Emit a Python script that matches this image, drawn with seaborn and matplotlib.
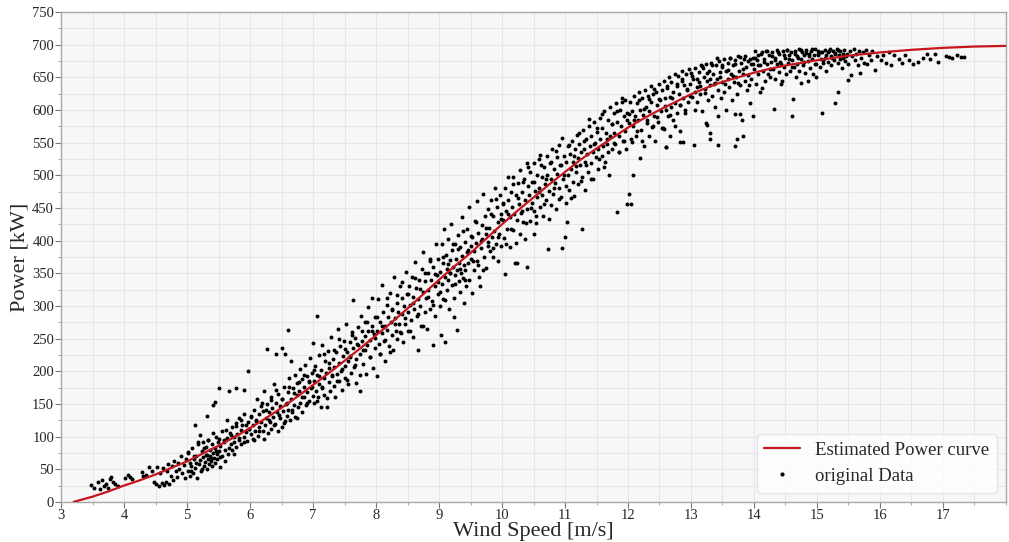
import matplotlib
matplotlib.use('Agg')
import matplotlib.pyplot as plt
from matplotlib.lines import Line2D
from matplotlib.ticker import MultipleLocator
import pandas as pd
import seaborn as sns

# Estimated power curve
curve_ws = [3.2, 3.5, 3.75, 4.0, 4.25, 4.5, 4.75, 5.0, 5.25, 5.5, 5.75, 6.0, 6.25, 6.5, 6.75,
            7.0, 7.25, 7.5, 7.75, 8.0, 8.25, 8.5, 8.75, 9.0, 9.25, 9.5, 9.75, 10.0, 10.25,
            10.5, 10.75, 11.0, 11.25, 11.5, 11.75, 12.0, 12.25, 12.5, 12.75, 13.0, 13.25,
            13.5, 13.75, 14.0, 14.25, 14.5, 14.75, 15.0, 15.5, 16.0, 16.5, 17.0, 17.5, 18.0]
curve_kw = [0, 8, 16, 25, 33, 42, 52, 62, 74, 86, 99, 113, 128, 144, 161,
            179, 197, 216, 235, 255, 275, 296, 318, 340, 361, 381, 403, 425, 446,
            466, 486, 505, 524, 541, 557, 573, 587, 600, 612, 624, 634,
            643, 650, 657, 663, 668, 672, 676, 683, 688, 692, 695, 697, 698]

# measured points (wind speed, power), grouped by wind speed range
pts_3_5 = [(3.48, 26), (3.52, 22), (3.58, 30), (3.62, 19), (3.65, 33), (3.68, 25), (3.71, 28),
           (3.74, 21), (3.77, 35), (3.8, 38), (3.83, 30), (3.86, 27), (3.9, 24), (4.02, 37),
           (4.06, 41), (4.1, 38), (4.12, 35), (4.28, 46), (4.3, 39), (4.35, 41), (4.4, 53),
           (4.44, 47), (4.47, 30), (4.5, 27), (4.52, 53), (4.55, 25), (4.57, 44), (4.6, 29),
           (4.62, 52), (4.63, 26), (4.66, 31), (4.68, 48), (4.7, 58), (4.72, 28), (4.74, 40),
           (4.76, 55), (4.78, 33), (4.8, 62), (4.82, 47), (4.84, 38), (4.86, 60), (4.88, 51),
           (4.9, 70), (4.92, 44), (4.95, 57), (4.97, 36), (4.99, 66)]

pts_5_6 = [(5.01, 48), (5.02, 75), (5.04, 39), (5.05, 60), (5.07, 55), (5.08, 82), (5.1, 44),
           (5.11, 66), (5.13, 118), (5.13, 52), (5.15, 71), (5.16, 36), (5.18, 88), (5.19, 58),
           (5.2, 102), (5.21, 64), (5.22, 47), (5.24, 78), (5.25, 69), (5.26, 92), (5.27, 55),
           (5.28, 61), (5.3, 84), (5.31, 131), (5.31, 72), (5.32, 50), (5.33, 66), (5.34, 95),
           (5.35, 58), (5.36, 79), (5.37, 70), (5.38, 63), (5.39, 88), (5.4, 55), (5.41, 75),
           (5.42, 148), (5.43, 67), (5.44, 153), (5.44, 82), (5.45, 60), (5.46, 100), (5.47, 73),
           (5.48, 65), (5.49, 91), (5.5, 174), (5.5, 78), (5.52, 54), (5.53, 86), (5.55, 70),
           (5.56, 108), (5.58, 94), (5.6, 62), (5.61, 80), (5.63, 125), (5.64, 98), (5.65, 74),
           (5.67, 169), (5.68, 105), (5.7, 88), (5.71, 115), (5.72, 79), (5.74, 100), (5.75, 92),
           (5.77, 174), (5.77, 120), (5.78, 84), (5.8, 104), (5.82, 95), (5.83, 128), (5.85, 110),
           (5.86, 88), (5.88, 118), (5.9, 171), (5.9, 99), (5.91, 135), (5.93, 107), (5.95, 93),
           (5.96, 122), (5.97, 201), (5.98, 112)]

pts_6_7 = [(6.01, 104), (6.02, 130), (6.04, 96), (6.05, 118), (6.07, 140), (6.08, 109), (6.1, 125),
           (6.11, 158), (6.13, 101), (6.14, 134), (6.15, 115), (6.17, 147), (6.18, 122), (6.2, 108),
           (6.21, 139), (6.22, 170), (6.24, 117), (6.25, 129), (6.27, 234), (6.27, 150), (6.28, 106),
           (6.3, 137), (6.31, 123), (6.33, 160), (6.34, 112), (6.35, 144), (6.37, 130), (6.38, 181),
           (6.4, 119), (6.41, 226), (6.41, 152), (6.43, 137), (6.44, 108), (6.45, 165), (6.47, 128),
           (6.48, 147), (6.5, 115), (6.51, 235), (6.51, 158), (6.53, 139), (6.54, 176), (6.55, 124),
           (6.56, 226), (6.57, 150), (6.58, 132), (6.6, 168), (6.61, 263), (6.61, 141), (6.62, 190),
           (6.64, 126), (6.65, 216), (6.65, 157), (6.67, 138), (6.68, 175), (6.7, 148), (6.71, 195),
           (6.72, 130), (6.74, 163), (6.75, 182), (6.76, 145), (6.78, 170), (6.79, 204), (6.8, 152),
           (6.82, 188), (6.83, 138), (6.85, 176), (6.86, 160), (6.87, 210), (6.89, 149), (6.9, 192),
           (6.91, 168), (6.93, 183), (6.94, 155), (6.95, 220), (6.97, 174), (6.98, 197), (7.0, 243),
           (7.0, 162)]

pts_7_8 = [(7.01, 185), (7.02, 151), (7.03, 208), (7.05, 170), (7.06, 285), (7.06, 194), (7.08, 160),
           (7.09, 225), (7.1, 181), (7.12, 146), (7.13, 202), (7.14, 176), (7.15, 240), (7.17, 190),
           (7.18, 163), (7.19, 215), (7.21, 198), (7.22, 146), (7.23, 231), (7.25, 184), (7.26, 205),
           (7.27, 170), (7.29, 252), (7.3, 193), (7.31, 218), (7.33, 178), (7.34, 206), (7.35, 160),
           (7.37, 229), (7.38, 196), (7.39, 264), (7.41, 212), (7.42, 185), (7.43, 238), (7.45, 200),
           (7.46, 172), (7.47, 224), (7.49, 247), (7.5, 208), (7.51, 190), (7.52, 273), (7.54, 230),
           (7.55, 215), (7.56, 180), (7.58, 244), (7.59, 222), (7.6, 198), (7.62, 260), (7.63, 236),
           (7.64, 309), (7.65, 206), (7.67, 251), (7.68, 219), (7.69, 182), (7.71, 268), (7.72, 240),
           (7.74, 226), (7.75, 169), (7.76, 285), (7.78, 247), (7.79, 211), (7.8, 232), (7.82, 276),
           (7.83, 254), (7.84, 196), (7.86, 240), (7.87, 299), (7.88, 262), (7.9, 222), (7.91, 248),
           (7.93, 312), (7.93, 270), (7.95, 205), (7.96, 257), (7.98, 236), (7.99, 283)]

pts_8_9 = [(8.01, 192), (8.02, 262), (8.03, 310), (8.05, 241), (8.06, 275), (8.07, 226), (8.09, 332),
           (8.1, 258), (8.11, 290), (8.13, 247), (8.14, 270), (8.15, 215), (8.17, 301), (8.18, 263),
           (8.19, 283), (8.21, 238), (8.22, 320), (8.23, 276), (8.25, 255), (8.26, 295), (8.27, 232),
           (8.29, 344), (8.3, 281), (8.31, 262), (8.33, 305), (8.34, 249), (8.35, 290), (8.37, 273),
           (8.38, 330), (8.39, 258), (8.41, 312), (8.42, 287), (8.43, 244), (8.45, 300), (8.46, 273),
           (8.47, 352), (8.49, 318), (8.5, 290), (8.51, 262), (8.53, 330), (8.54, 302), (8.55, 279),
           (8.57, 345), (8.58, 313), (8.59, 252), (8.61, 296), (8.62, 367), (8.63, 328), (8.65, 285),
           (8.66, 310), (8.67, 232), (8.69, 340), (8.7, 300), (8.71, 270), (8.73, 356), (8.74, 322),
           (8.75, 383), (8.77, 291), (8.78, 338), (8.79, 312), (8.81, 264), (8.82, 350), (8.83, 325),
           (8.85, 296), (8.86, 372), (8.87, 340), (8.89, 308), (8.9, 240), (8.91, 360), (8.93, 331),
           (8.94, 285), (8.95, 395), (8.97, 348), (8.98, 318), (8.99, 372)]

pts_9_10 = [(9.01, 352), (9.02, 300), (9.03, 256), (9.04, 395), (9.05, 333), (9.06, 366), (9.07, 310),
            (9.08, 418), (9.09, 345), (9.1, 245), (9.11, 378), (9.12, 325), (9.13, 356), (9.14, 402),
            (9.15, 340), (9.16, 295), (9.17, 370), (9.18, 350), (9.19, 426), (9.2, 332), (9.21, 385),
            (9.22, 360), (9.23, 312), (9.24, 283), (9.25, 395), (9.26, 347), (9.27, 372), (9.28, 263),
            (9.29, 355), (9.3, 408), (9.31, 338), (9.32, 366), (9.33, 322), (9.34, 390), (9.35, 350),
            (9.36, 436), (9.37, 377), (9.38, 343), (9.39, 305), (9.4, 362), (9.41, 398), (9.42, 355),
            (9.43, 330), (9.44, 383), (9.45, 418), (9.46, 365), (9.47, 452), (9.48, 340), (9.5, 392),
            (9.51, 372), (9.52, 320), (9.53, 406), (9.55, 384), (9.56, 355), (9.57, 430), (9.59, 397),
            (9.6, 368), (9.61, 460), (9.62, 412), (9.64, 345), (9.65, 330), (9.66, 388), (9.68, 424),
            (9.69, 402), (9.7, 472), (9.71, 375), (9.73, 437), (9.74, 410), (9.75, 358), (9.77, 392),
            (9.78, 448), (9.8, 420), (9.81, 384), (9.82, 462), (9.84, 405), (9.85, 375), (9.86, 438),
            (9.88, 415), (9.89, 480), (9.9, 395), (9.92, 452), (9.93, 428), (9.94, 368), (9.96, 410),
            (9.97, 470), (9.98, 440), (9.99, 392)]

pts_10_11 = [(10.01, 432), (10.02, 458), (10.03, 404), (10.05, 349), (10.05, 480), (10.07, 445),
             (10.08, 418), (10.09, 498), (10.1, 462), (10.12, 390), (10.13, 436), (10.14, 474),
             (10.16, 452), (10.17, 416), (10.18, 498), (10.19, 440), (10.21, 366), (10.22, 470),
             (10.23, 365), (10.24, 432), (10.25, 488), (10.27, 456), (10.28, 410), (10.29, 508),
             (10.31, 446), (10.32, 475), (10.33, 428), (10.35, 495), (10.36, 462), (10.37, 402),
             (10.39, 518), (10.4, 359), (10.4, 448), (10.41, 484), (10.43, 470), (10.44, 430),
             (10.45, 505), (10.47, 458), (10.48, 490), (10.5, 410), (10.5, 518), (10.51, 445),
             (10.52, 476), (10.54, 437), (10.55, 500), (10.56, 466), (10.58, 525), (10.59, 480),
             (10.6, 531), (10.61, 452), (10.63, 498), (10.64, 470), (10.65, 437), (10.67, 512),
             (10.68, 486), (10.7, 462), (10.71, 530), (10.72, 500), (10.73, 387), (10.74, 476),
             (10.76, 518), (10.77, 455), (10.78, 495), (10.8, 540), (10.81, 472), (10.83, 510),
             (10.84, 488), (10.85, 448), (10.87, 528), (10.88, 502), (10.9, 480), (10.91, 546),
             (10.92, 515), (10.94, 466), (10.95, 557), (10.96, 388), (10.97, 495), (10.98, 530)]

pts_11_12 = [(11.0, 405), (11.01, 520), (11.02, 457), (11.03, 429), (11.04, 545), (11.05, 500),
             (11.07, 478), (11.08, 532), (11.09, 510), (11.11, 552), (11.12, 490), (11.13, 520),
             (11.15, 468), (11.16, 540), (11.17, 505), (11.19, 562), (11.2, 527), (11.21, 486),
             (11.23, 548), (11.24, 515), (11.25, 535), (11.27, 418), (11.27, 498), (11.28, 570),
             (11.3, 540), (11.31, 520), (11.32, 478), (11.34, 555), (11.35, 532), (11.37, 505),
             (11.38, 576), (11.39, 545), (11.41, 518), (11.42, 560), (11.44, 535), (11.45, 495),
             (11.46, 582), (11.48, 550), (11.49, 528), (11.5, 566), (11.52, 540), (11.53, 510),
             (11.55, 588), (11.56, 555), (11.58, 530), (11.59, 572), (11.6, 545), (11.62, 598),
             (11.63, 520), (11.65, 565), (11.66, 548), (11.68, 585), (11.69, 535), (11.71, 605),
             (11.72, 560), (11.74, 578), (11.75, 540), (11.77, 595), (11.78, 565), (11.8, 548),
             (11.81, 610), (11.82, 444), (11.83, 582), (11.85, 560), (11.86, 535), (11.88, 600),
             (11.89, 575), (11.9, 612), (11.92, 552), (11.93, 590), (11.95, 568), (11.96, 615),
             (11.97, 540), (11.99, 456), (11.99, 595)]

pts_12_13 = [(12.01, 580), (12.02, 471), (12.03, 612), (12.04, 456), (12.05, 555), (12.06, 598),
             (12.08, 500), (12.08, 575), (12.1, 622), (12.11, 590), (12.13, 560), (12.14, 610),
             (12.16, 585), (12.17, 628), (12.19, 527), (12.19, 600), (12.21, 570), (12.22, 618),
             (12.24, 592), (12.25, 545), (12.27, 630), (12.28, 605), (12.3, 580), (12.31, 622),
             (12.33, 560), (12.34, 598), (12.36, 636), (12.37, 612), (12.39, 575), (12.4, 625),
             (12.42, 590), (12.43, 552), (12.45, 628), (12.46, 608), (12.48, 582), (12.49, 640),
             (12.51, 615), (12.52, 598), (12.54, 630), (12.55, 572), (12.57, 645), (12.57, 571),
             (12.58, 618), (12.6, 543), (12.6, 600), (12.61, 544), (12.62, 636), (12.63, 590),
             (12.65, 650), (12.66, 620), (12.67, 560), (12.68, 605), (12.69, 642), (12.71, 585),
             (12.72, 628), (12.74, 655), (12.75, 610), (12.77, 640), (12.78, 596), (12.8, 652),
             (12.81, 625), (12.83, 551), (12.83, 567), (12.83, 608), (12.85, 645), (12.86, 660),
             (12.88, 551), (12.88, 618), (12.89, 638), (12.91, 600), (12.92, 655), (12.94, 630),
             (12.95, 612), (12.97, 662), (12.98, 640)]

pts_13_14 = [(13.0, 656), (13.01, 620), (13.03, 648), (13.05, 546), (13.06, 600), (13.07, 664),
             (13.09, 635), (13.1, 612), (13.12, 658), (13.13, 642), (13.15, 625), (13.16, 668),
             (13.18, 598), (13.19, 664), (13.21, 650), (13.22, 632), (13.24, 670), (13.24, 580),
             (13.25, 577), (13.25, 645), (13.27, 615), (13.28, 660), (13.3, 556), (13.3, 564),
             (13.3, 638), (13.32, 672), (13.33, 622), (13.35, 655), (13.36, 640), (13.38, 605),
             (13.39, 668), (13.41, 648), (13.43, 546), (13.43, 590), (13.43, 630), (13.44, 675),
             (13.46, 658), (13.47, 618), (13.49, 665), (13.5, 642), (13.52, 678), (13.53, 628),
             (13.55, 660), (13.56, 600), (13.58, 672), (13.59, 648), (13.61, 635), (13.62, 680),
             (13.64, 655), (13.65, 615), (13.67, 668), (13.68, 642), (13.7, 545), (13.7, 593),
             (13.7, 676), (13.72, 650), (13.73, 556), (13.73, 625), (13.75, 683), (13.76, 660),
             (13.78, 594), (13.78, 638), (13.79, 672), (13.81, 585), (13.83, 560), (13.83, 655),
             (13.84, 678), (13.86, 645), (13.87, 665), (13.89, 630), (13.9, 675), (13.92, 638),
             (13.93, 610), (13.95, 670), (13.96, 648), (13.98, 680), (13.99, 590)]

pts_14_15 = [(14.0, 662), (14.01, 690), (14.03, 640), (14.04, 676), (14.06, 655), (14.07, 684),
             (14.09, 628), (14.1, 668), (14.12, 688), (14.13, 633), (14.15, 660), (14.16, 678),
             (14.18, 645), (14.19, 690), (14.21, 670), (14.22, 655), (14.24, 684), (14.26, 650),
             (14.27, 674), (14.29, 688), (14.3, 662), (14.31, 602), (14.33, 680), (14.34, 648),
             (14.36, 692), (14.37, 670), (14.39, 658), (14.4, 686), (14.42, 674), (14.43, 640),
             (14.45, 645), (14.46, 690), (14.48, 666), (14.49, 680), (14.51, 655), (14.52, 692),
             (14.54, 672), (14.55, 684), (14.57, 660), (14.58, 688), (14.6, 676), (14.61, 591),
             (14.62, 617), (14.63, 665), (14.65, 690), (14.66, 650), (14.68, 682), (14.69, 670),
             (14.71, 693), (14.72, 660), (14.74, 641), (14.75, 678), (14.77, 688), (14.78, 668),
             (14.8, 684), (14.81, 656), (14.83, 692), (14.85, 645), (14.86, 675), (14.88, 686),
             (14.89, 664), (14.91, 690), (14.92, 678), (14.94, 655), (14.95, 684), (14.97, 693),
             (14.99, 650), (14.99, 670)]

pts_15_16 = [(15.01, 684), (15.02, 690), (15.04, 666), (15.06, 678), (15.08, 596), (15.08, 688),
             (15.1, 672), (15.12, 692), (15.13, 680), (15.15, 660), (15.17, 688), (15.18, 674),
             (15.2, 694), (15.22, 682), (15.23, 668), (15.25, 690), (15.27, 676), (15.29, 610),
             (15.29, 686), (15.31, 693), (15.33, 628), (15.33, 672), (15.35, 684), (15.37, 690),
             (15.39, 664), (15.41, 680), (15.43, 692), (15.45, 675), (15.47, 686), (15.5, 646),
             (15.5, 670), (15.52, 690), (15.54, 653), (15.55, 682), (15.58, 694), (15.6, 676),
             (15.62, 686), (15.65, 668), (15.67, 690), (15.69, 656), (15.7, 680), (15.73, 688),
             (15.75, 672), (15.78, 692), (15.8, 671), (15.83, 684), (15.86, 676), (15.88, 690),
             (15.92, 661), (15.95, 682)]

pts_16_18 = [(16.02, 676), (16.05, 684), (16.1, 672), (16.15, 688), (16.18, 669), (16.23, 684),
             (16.3, 678), (16.35, 672), (16.4, 684), (16.46, 676), (16.52, 670), (16.6, 674),
             (16.68, 680), (16.74, 686), (16.8, 678), (16.87, 685), (16.92, 674), (17.05, 683),
             (17.1, 681), (17.15, 679), (17.22, 684), (17.28, 681), (17.34, 681)]

# extra points filling the dense core of the cloud
core_ws_a = [5.02, 5.06, 5.11, 5.15, 5.18, 5.23, 5.27, 5.3, 5.34, 5.38, 5.42, 5.46, 5.5,
             5.53, 5.58, 5.62, 5.66, 5.7, 5.74, 5.78, 5.82, 5.86, 5.9, 5.94, 5.98,
             6.02, 6.06, 6.1, 6.14, 6.19, 6.22, 6.26, 6.3, 6.34, 6.38, 6.42, 6.46, 6.5,
             6.54, 6.58, 6.62, 6.66, 6.7, 6.74, 6.78, 6.82, 6.86, 6.9, 6.94, 6.98,
             7.02, 7.06, 7.1, 7.14, 7.18, 7.22, 7.26, 7.3, 7.34, 7.38, 7.42, 7.46, 7.5,
             7.54, 7.58, 7.62, 7.66, 7.7, 7.74, 7.78, 7.82, 7.86, 7.9, 7.94, 7.98,
             8.02, 8.06, 8.1, 8.14, 8.18, 8.22, 8.26, 8.3, 8.34, 8.38, 8.42, 8.46, 8.5,
             8.54, 8.58, 8.62, 8.66, 8.7, 8.74, 8.78, 8.82, 8.86, 8.9, 8.94, 8.98]
core_kw_a = [76, 48, 71, 60, 92, 51, 83, 72, 95, 67, 106, 78, 97,
             69, 91, 110, 83, 102, 74, 116, 98, 125, 92, 117, 111,
             132, 95, 124, 109, 152, 97, 140, 126, 156, 118, 171, 133, 158,
             121, 151, 176, 141, 166, 128, 183, 160, 195, 152, 185, 176,
             202, 155, 192, 174, 227, 159, 212, 195, 232, 185, 250, 203, 234,
             187, 224, 255, 210, 241, 194, 262, 232, 276, 222, 262, 251,
             283, 226, 270, 248, 312, 230, 293, 272, 317, 260, 337, 281, 318,
             262, 305, 343, 288, 326, 269, 351, 314, 368, 301, 349, 336]

core_ws_b = [9.02, 9.06, 9.1, 9.14, 9.18, 9.22, 9.26, 9.3, 9.34, 9.38, 9.42, 9.46, 9.5,
             9.54, 9.58, 9.62, 9.66, 9.7, 9.74, 9.78, 9.82, 9.86, 9.9, 9.94, 9.98,
             10.02, 10.06, 10.1, 10.14, 10.18, 10.22, 10.26, 10.3, 10.34, 10.38, 10.42, 10.46, 10.5,
             10.54, 10.58, 10.62, 10.66, 10.7, 10.74, 10.78, 10.82, 10.86, 10.9, 10.94, 10.98,
             11.02, 11.06, 11.1, 11.14, 11.18, 11.22, 11.26, 11.3, 11.34, 11.38, 11.42, 11.46, 11.5,
             11.54, 11.58, 11.62, 11.66, 11.7, 11.74, 11.78, 11.82, 11.86, 11.9, 11.94, 11.98,
             12.02, 12.06, 12.1, 12.14, 12.18, 12.22, 12.26, 12.3, 12.34, 12.38, 12.42, 12.46, 12.5,
             12.54, 12.58, 12.62, 12.66, 12.7, 12.74, 12.78, 12.82, 12.86, 12.9, 12.94, 12.98]
core_kw_b = [322, 375, 309, 364, 351, 395, 334, 387, 356, 415, 340, 386, 407,
             369, 428, 362, 399, 355, 420, 398, 441, 388, 464, 405, 433,
             456, 394, 441, 417, 486, 397, 465, 442, 489, 427, 512, 450, 489,
             427, 475, 515, 456, 495, 433, 521, 481, 537, 464, 516, 501,
             483, 546, 465, 530, 514, 565, 491, 553, 516, 586, 495, 548, 572,
             525, 594, 513, 556, 501, 578, 549, 599, 535, 618, 552, 584,
             594, 551, 584, 567, 615, 553, 601, 585, 617, 574, 632, 589, 616,
             573, 606, 633, 592, 619, 576, 636, 608, 647, 596, 632, 621]

core_ws_c = [13.02, 13.06, 13.1, 13.14, 13.18, 13.22, 13.26, 13.3, 13.34, 13.38, 13.42, 13.46,
             13.5, 13.54, 13.58, 13.62, 13.66, 13.7, 13.74, 13.78, 13.82, 13.86, 13.9, 13.94, 13.98,
             14.02, 14.07, 14.11, 14.16, 14.2, 14.25, 14.29, 14.34, 14.38, 14.43, 14.47, 14.52,
             14.56, 14.61, 14.65, 14.7, 14.74, 14.79, 14.83, 14.88, 14.92, 14.97, 15.01, 15.06,
             15.1, 15.15, 15.19, 15.24, 15.28, 15.33, 15.37, 15.42, 15.46]
core_kw_c = [652, 627, 647, 636, 667, 626, 657, 647, 669, 641, 679, 650,
             669, 640, 661, 679, 652, 670, 641, 681, 662, 683, 654, 678, 671,
             680, 668, 686, 674, 690, 662, 683, 676, 688, 670, 684, 692,
             678, 666, 686, 680, 691, 674, 687, 682, 693, 670, 685, 689,
             676, 684, 690, 680, 687, 692, 678, 686, 683]

all_pts = (pts_3_5 + pts_5_6 + pts_6_7 + pts_7_8 + pts_8_9 + pts_9_10 + pts_10_11
           + pts_11_12 + pts_12_13 + pts_13_14 + pts_14_15 + pts_15_16 + pts_16_18
           + list(zip(core_ws_a, core_kw_a)) + list(zip(core_ws_b, core_kw_b))
           + list(zip(core_ws_c, core_kw_c)))
data = pd.DataFrame(all_pts, columns=['wind_speed', 'power'])
curve = pd.DataFrame({'wind_speed': curve_ws, 'power': curve_kw})

sns.set_style('whitegrid', {'axes.facecolor': '#f7f7f7', 'grid.color': '#e6e6e6',
                            'axes.edgecolor': '#a8a8a8'})
plt.rcParams['font.family'] = ['Liberation Serif', 'DejaVu Serif']

fig, ax = plt.subplots(figsize=(10.09, 5.42), dpi=100)
fig.subplots_adjust(left=0.0605, right=0.997, top=0.978, bottom=0.074)

line_color = '#c4161c'
sns.scatterplot(data=data, x='wind_speed', y='power', color='black', s=8, linewidth=0,
                ax=ax, zorder=2)
sns.lineplot(data=curve, x='wind_speed', y='power', color=line_color, linewidth=1.6,
             ax=ax, zorder=3)

ax.set_xlim(3, 18)
ax.set_ylim(0, 750)
ax.set_xticks(range(3, 18))
ax.xaxis.set_minor_locator(MultipleLocator(0.5))
ax.yaxis.set_major_locator(MultipleLocator(50))
ax.yaxis.set_minor_locator(MultipleLocator(25))
ax.grid(True, which='both', color='#e6e6e6', linewidth=0.8)
ax.set_axisbelow(True)
ax.tick_params(axis='both', which='major', labelsize=10.5, length=4, width=0.8,
               color='#777777', pad=1, bottom=True, left=True)
ax.tick_params(axis='both', which='minor', length=2.5, width=0.6, color='#999999',
               bottom=True, left=True)
for side in ['top', 'right', 'left', 'bottom']:
    ax.spines[side].set_linewidth(1.0)

ax.set_xlabel('Wind Speed [m/s]', fontsize=16, labelpad=0)
ax.set_ylabel('Power [kW]', fontsize=16, labelpad=2)

handles = [Line2D([], [], color=line_color, linewidth=1.6),
           Line2D([], [], color='black', marker='o', markersize=2, linestyle='')]
ax.legend(handles, ['Estimated Power curve', 'original Data'], loc='lower right',
          fontsize=13.5, frameon=True, framealpha=0.8, facecolor='white',
          edgecolor='#e0e0e0', borderaxespad=0.5, handlelength=1.9)

plt.savefig('out.png', dpi=100)
